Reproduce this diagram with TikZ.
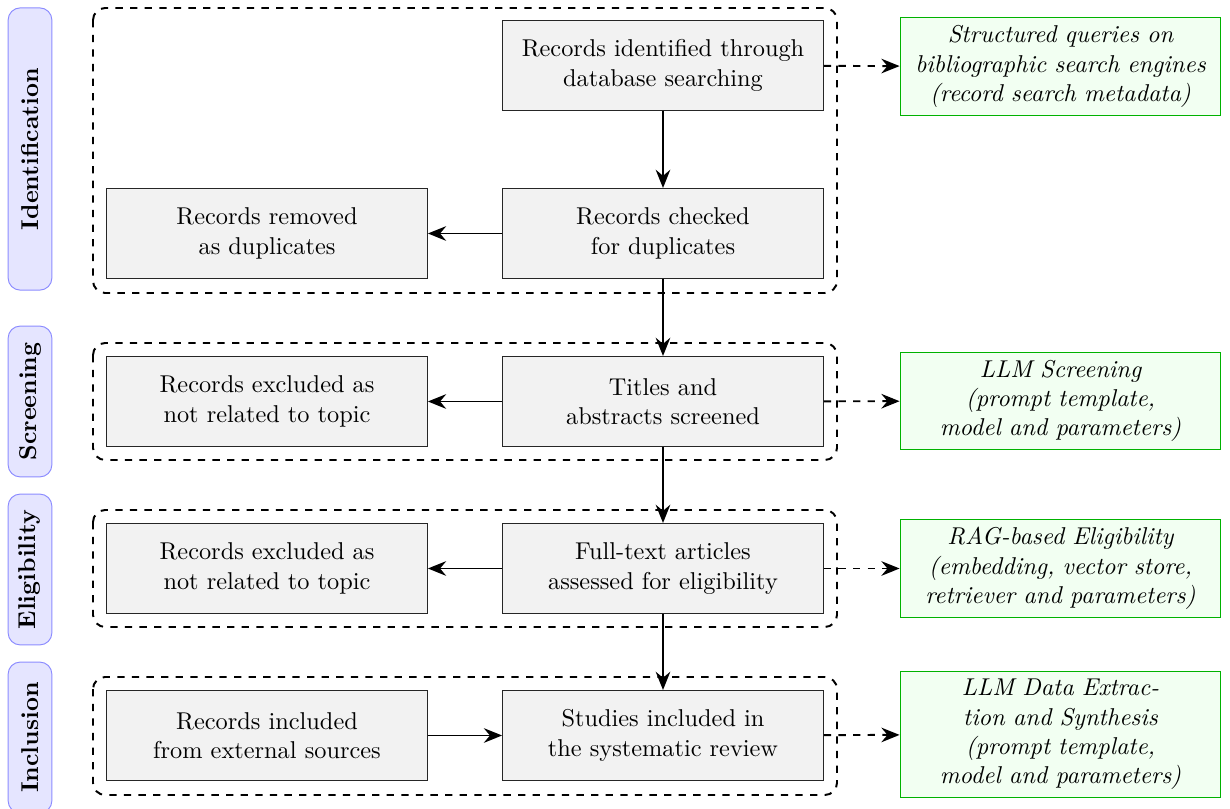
\documentclass[tikz,border=0pt]{standalone}
\usetikzlibrary{arrows.meta}
\begin{document}
\begin{tikzpicture}[x=0.411pt,y=-0.411pt,
  box/.style={draw=black!85, fill=gray!10, text width=4.4cm, align=center, minimum height=37pt, inner sep=3.33pt},
  tool/.style={draw=green!70!black, fill=green!5, text width=4.4cm, align=center, font=\itshape, inner sep=3.33pt},
  phase/.style={draw=blue!45, fill=blue!10, rounded corners=5pt, rotate=90, font=\bfseries, minimum height=18pt, inner sep=2pt},
  group/.style={draw, dashed, thick, rounded corners=5pt},
  arr/.style={-{Stealth[length=7.5pt,width=6pt,inset=2.5pt]}, thick},
  darr/.style={-{Stealth[length=7.5pt,width=6pt,inset=2.5pt]}, thick, dashed}]
\useasboundingbox (0,0) rectangle (1230,809);

% phase labels
\node[phase, minimum width=116pt] (pid) at (30,149) {Identification};
\node[phase, minimum width=62pt] (psc) at (30,401.5) {Screening};
\node[phase, minimum width=62pt] (pel) at (30,569.5) {Eligibility};
\node[phase, minimum width=62pt] (pin) at (30,737.5) {Inclusion};

% dashed groups
\draw[group] (93,8) rectangle (837,293);
\draw[group] (93,343) rectangle (837,460);
\draw[group] (93,510) rectangle (837,627);
\draw[group] (93,677) rectangle (837,795);

% main boxes
\node[box] (ident) at (663,65.5) {Records identified through\\database searching};
\node[box] (dupc) at (663,233.5) {Records checked\\for duplicates};
\node[box] (dupr) at (267,233.5) {Records removed\\as duplicates};
\node[box] (scr) at (663,401.5) {Titles and\\abstracts screened};
\node[box] (scrx) at (267,401.5) {Records excluded as\\not related to topic};
\node[box] (elig) at (663,568.5) {Full-text articles\\assessed for eligibility};
\node[box] (eligx) at (267,568.5) {Records excluded as\\not related to topic};
\node[box] (incl) at (663,735.5) {Studies included in\\the systematic review};
\node[box] (ext) at (267,735.5) {Records included\\from external sources};

% tool boxes
\node[tool] (t1) at (1060.5,66.5) {Structured queries on\\bibliographic search engines\\(record search metadata)};
\node[tool] (t2) at (1060.5,401) {LLM Screening\\(prompt template,\\model and parameters)};
\node[tool] (t3) at (1060.5,568.5) {RAG-based Eligibility\\(embedding, vector store,\\retriever and parameters)};
\node[tool] (t4) at (1060.5,734.5) {LLM Data Extrac-\\tion and Synthesis\\(prompt template,\\model and parameters)};

% arrows
\draw[arr] (ident) -- (dupc);
\draw[arr] (dupc) -- (dupr);
\draw[arr] (dupc) -- (scr);
\draw[arr] (scr) -- (scrx);
\draw[arr] (scr) -- (elig);
\draw[arr] (elig) -- (eligx);
\draw[arr] (elig) -- (incl);
\draw[arr] (ext) -- (incl);

\draw[darr] (ident) -- (t1);
\draw[darr] (scr) -- (t2);
\draw[darr] (elig) -- (t3);
\draw[darr] (incl) -- (t4);
\end{tikzpicture}
\end{document}
